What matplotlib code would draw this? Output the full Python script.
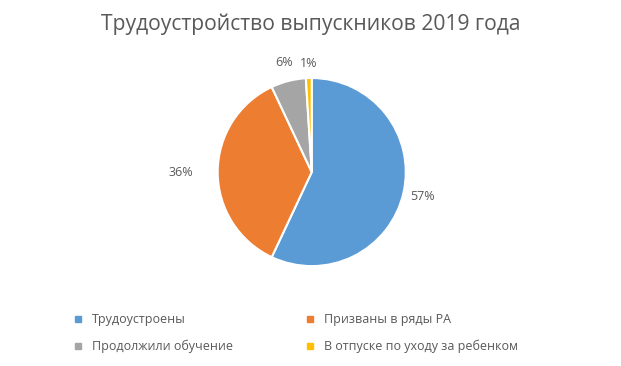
import numpy as np
import matplotlib.pyplot as plt

# данные
labels = ['Трудоустроены', 'Призваны в ряды РА', 'Продолжили обучение', 'В отпуске по уходу за ребенком']
values = [57, 36, 6, 1]
colors = ['#5B9BD5', '#ED7D31', '#A5A5A5', '#FFC000']
label_dist = [1.21, 1.39, 1.2, 1.15]

plt.rcParams['font.family'] = ['Open Sans', 'DejaVu Sans']

fig = plt.figure(figsize=(6.21, 3.66), dpi=100)
ax = fig.add_axes([0.502 - 0.153, 0.53 - 0.2596, 0.306, 0.519])

wedges, _ = ax.pie(values, colors=colors, startangle=90, counterclock=False,
                   wedgeprops=dict(edgecolor='white', linewidth=1.5))
ax.set_aspect('equal')
ax.set_xlim(-1.01, 1.01)
ax.set_ylim(-1.01, 1.01)

for w, v, d in zip(wedges, values, label_dist):
    ang = np.deg2rad((w.theta1 + w.theta2) / 2)
    ax.text(d * np.cos(ang), d * np.sin(ang), f'{v}%', ha='center', va='center',
            fontsize=9, color='#595959')

fig.text(0.5, 0.935, 'Трудоустройство выпускников 2019 года', ha='center', va='center',
         fontsize=15.2, color='#595959')

# порядок легенды по строкам, как в оригинале
order = [0, 2, 1, 3]
handles = [plt.Line2D([], [], marker='s', linestyle='', markersize=5, color=colors[i]) for i in order]
fig.legend(handles, [labels[i] for i in order], loc='center', bbox_to_anchor=(0.47, 0.09),
           ncol=2, frameon=False, fontsize=9, labelcolor='#595959', handletextpad=0.1,
           columnspacing=5.2, labelspacing=1.1)

fig.savefig('out.png', dpi=100, facecolor='white')
